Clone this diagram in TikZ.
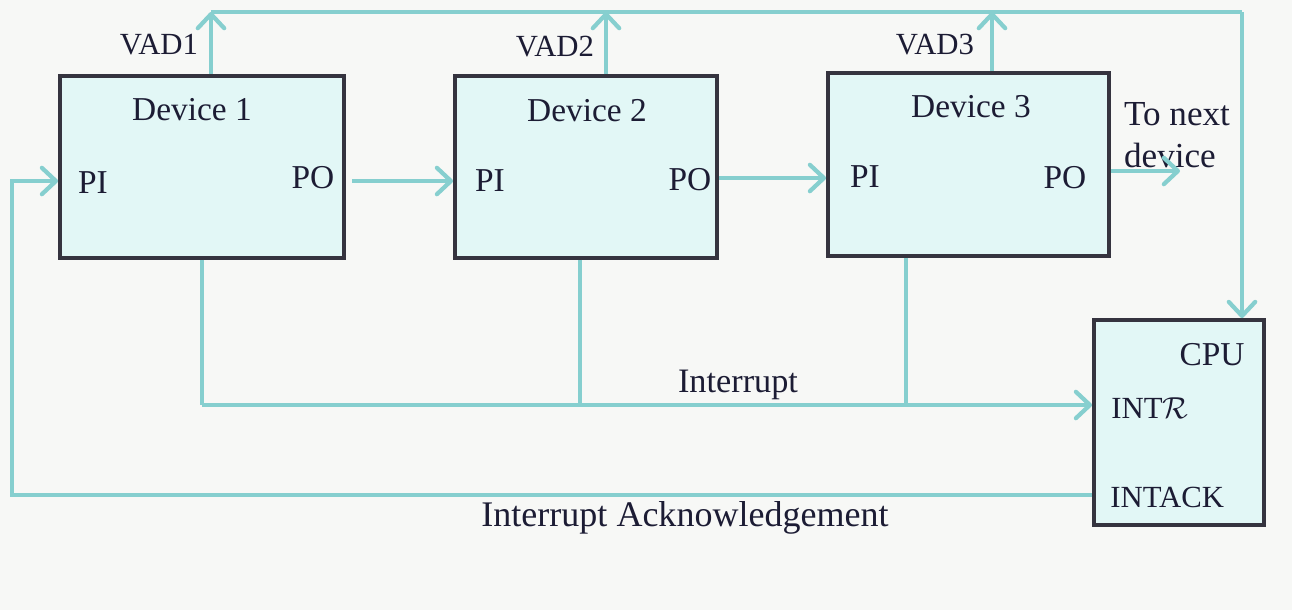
\documentclass[tikz,border=0pt]{standalone}
\usepackage{fontspec}
\setmainfont{Liberation Serif}
\usetikzlibrary{arrows.meta}
\definecolor{bg}{HTML}{F7F8F6}
\definecolor{wire}{HTML}{86CFCF}
\definecolor{boxfill}{HTML}{E2F7F6}
\definecolor{boxline}{HTML}{35343F}
\definecolor{ink}{HTML}{1C1C34}
\tikzset{
  devbox/.style={draw=boxline, fill=boxfill, line width=2.2pt, inner sep=0pt},
  wireline/.style={draw=wire, line width=2.6pt},
  arr/.style={wireline, -{Straight Barb[length=8pt,width=15pt,line width=2.4pt,round]}},
  lbl/.style={text=ink, font=\fontsize{19}{22}\selectfont, inner sep=0pt},
  caplbl/.style={text=ink, font=\fontsize{17.5}{20}\selectfont, inner sep=0pt},
}
\begin{document}
\begin{tikzpicture}[x=0.02cm,y=-0.02cm]
\fill[bg] (0,0) rectangle (1292,610);
\useasboundingbox (0,0) rectangle (1292,610);
% boxes
\node[devbox, minimum width=284*0.02cm, minimum height=182*0.02cm] (d1) at (202,167) {};
\node[devbox, minimum width=262*0.02cm, minimum height=182*0.02cm] (d2) at (586,167) {};
\node[devbox, minimum width=281*0.02cm, minimum height=183*0.02cm] (d3) at (968.5,164.5) {};
\node[devbox, minimum width=170*0.02cm, minimum height=205*0.02cm] (cpu) at (1179,422.5) {};
% texts in boxes
\node[lbl] (t1) at (192,110) {Device 1};
\node[lbl] (pi1) at (93,183) {PI};
\node[lbl] (po1) at (313,178) {PO};
\node[lbl] (t2) at (587,111) {Device 2};
\node[lbl] (pi2) at (490,181) {PI};
\node[lbl] (po2) at (690,180) {PO};
\node[lbl] (t3) at (971,107) {Device 3};
\node[lbl] (pi3) at (865,177) {PI};
\node[lbl] (po3) at (1065,178) {PO};
\node[lbl] (cpul) at (1212,355) {CPU};
\node[caplbl, anchor=west] (intr) at (1111,408) {INT$\mathcal{R}$};
\node[caplbl, anchor=west] (intack) at (1110,497) {INTACK};
% outer labels
\node[caplbl] (v1) at (159,45) {VAD1};
\node[caplbl] (v2) at (555,47) {VAD2};
\node[caplbl] (v3) at (935,45) {VAD3};
\node[lbl, align=left, font=\fontsize{20}{24}\selectfont] (next) at (1177,135) {To next\\device};
\node[lbl, font=\fontsize{19.5}{22}\selectfont] (intl) at (738,385) {Interrupt};
\node[lbl, font=\fontsize{20.5}{22}\selectfont] (ackl) at (685,518) {Interrupt Acknowledgement};
% coordinates
\coordinate (top1) at (211,12);
\coordinate (top2) at (606,12);
\coordinate (top3) at (992,12);
\coordinate (topR) at (1242,12);
\coordinate (bus1) at (202,405);
\coordinate (bus2) at (580,405);
\coordinate (bus3) at (906,405);
\coordinate (ackL) at (12,495);
\coordinate (piL) at (12,181);
\coordinate (po1s) at (352,181);
\coordinate (po3e) at (1180,171);
% VAD bus
\draw[wireline] (top1) -- (topR);
\draw[arr] (d1.north -| top1) -- (top1);
\draw[arr] (d2.north -| top2) -- (top2);
\draw[arr] (d3.north -| top3) -- (top3);
\draw[arr] (topR) -- (topR |- cpu.north);
% daisy chain
\draw[arr] (po1s) -- (d2.west |- po1s);
\draw[arr] (d2.east |- 0,178) -- (d3.west |- 0,178);
\draw[arr] (d3.east |- po3e) -- (po3e);
% interrupt bus
\draw[wireline] (d1.south -| bus1) -- (bus1);
\draw[wireline] (d2.south -| bus2) -- (bus2);
\draw[wireline] (d3.south -| bus3) -- (bus3);
\draw[arr] (bus1) -- (cpu.west |- bus1);
% acknowledge
\draw[arr] (cpu.west |- ackL) -- (ackL) -- (piL) -- (d1.west |- piL);
\end{tikzpicture}
\end{document}
